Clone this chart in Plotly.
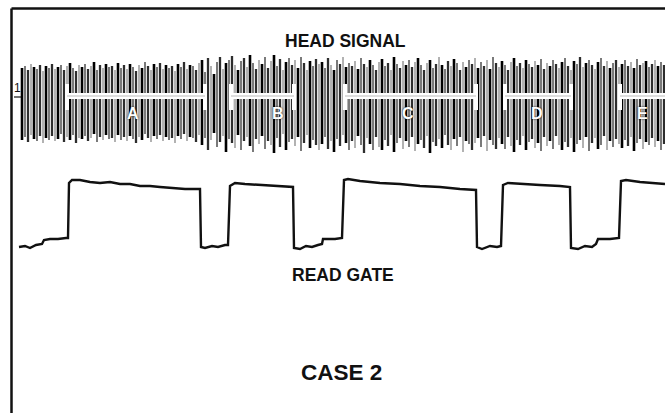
import plotly.graph_objects as go

# ---------------- data (screen-like units) ----------------
# head signal: spikes every 3 units starting at t=22; top / bottom excursion of each spike
head_t0 = 22
head_step = 3
head_top = [
    68,66,70,64,67,69,65,71,66,68,
    64,69,67,65,70,66,63,68,71,65,
    67,64,69,66,62,70,65,68,64,67,
    66,70,63,68,65,69,64,67,71,65,
    68,62,66,70,64,67,63,69,65,68,
    66,71,64,67,62,69,65,66,70,63,
    60,72,58,66,74,62,57,69,63,60,
    56,65,70,61,58,67,55,63,69,60,
    64,57,68,61,55,66,59,70,62,58,
    65,60,68,57,63,70,61,66,59,64,
    62,68,58,65,70,60,64,57,67,63,
    66,61,69,58,64,67,60,65,70,62,
    59,66,63,70,57,64,68,61,65,60,
    67,62,58,65,70,63,60,68,64,57,
    65,69,61,66,59,63,70,62,67,60,
    64,58,68,62,66,60,69,57,63,67,
    61,65,70,62,58,66,63,68,60,64,
    67,61,65,59,69,63,66,60,64,68,
    62,58,66,70,61,64,57,67,63,60,
    65,69,62,58,66,61,68,63,60,67,
    64,60,66,62,68,59,65,63,61,67,64,60,66,62,65,
]
head_bot = [
    140,137,142,135,139,141,136,143,138,140,
    136,141,139,134,142,137,140,135,143,138,
    139,136,141,138,134,142,137,140,135,139,
    138,142,135,140,137,141,136,139,143,137,
    140,134,138,142,136,139,135,141,137,140,
    138,143,136,139,134,141,137,138,142,135,
    145,138,150,140,133,147,142,136,152,139,
    143,148,135,150,141,137,146,152,139,144,
    136,149,141,145,153,138,147,134,150,142,
    139,146,137,151,143,135,148,140,145,150,
    144,137,149,141,152,139,146,135,143,150,
    141,148,136,145,153,138,144,150,137,147,
    150,140,146,135,152,143,138,149,141,147,
    137,151,144,140,148,136,153,142,146,139,
    148,135,145,150,139,146,137,152,141,144,
    150,143,138,147,136,151,140,145,149,138,
    144,149,137,146,152,140,145,136,150,142,
    139,148,143,151,137,146,141,149,136,145,
    150,142,147,138,152,144,140,148,137,151,
    143,138,149,145,136,150,141,147,139,144,
    148,140,146,137,151,143,139,149,142,145,138,147,141,150,144,
]

# read-gate trace breakpoints
gate_t = [19,25,30,36,42,44,50,58,66,68,69,72,80,90,100,110,120,130,140,150,160,170,185,199,200,
          201,205,212,218,225,228,230,235,245,260,275,292,293,
          294,300,306,312,318,322,323,335,342,344,348,360,380,400,420,440,460,475,476,
          477,482,490,497,501,503,508,520,540,560,569,570,
          571,578,585,592,596,598,610,619,621,626,640,665]
gate_v = [247,246,248,245,244,240,239,239,238,238,183,180,180,182,183,182,184,184,186,186,187,188,189,189,189,
          247,248,246,247,245,245,186,183,184,185,186,187,187,
          248,249,246,247,245,244,239,239,238,180,179,181,183,184,186,187,189,190,190,
          247,249,246,247,246,185,183,184,185,186,187,187,
          248,249,246,247,244,239,239,238,181,180,182,184]

# sector markers on the head signal
seg_labels = ["A", "B", "C", "D", "E"]
seg_start = [67, 231, 345, 505, 620]
seg_end = [205, 294, 476, 571, 667]
seg_label_t = [133, 278, 408, 537, 642]
seg_level = 96
seg_cap = (84, 110)
seg_label_level = 113

titles = ["HEAD SIGNAL", "READ GATE", "CASE 2"]
title_t = [345, 343, 341]
title_level = [41, 275, 372]
title_size = [17.5, 17.5, 22.5]

# ---------------- figure ----------------
fig = go.Figure()

shades = [("#000000", 2.6), ("#7a7a7a", 2.0), ("#2e2e2e", 2.3), ("#a5a5a5", 1.7)]
for g, (col, w) in enumerate(shades):
    xs, ys = [], []
    for i, (a, b) in enumerate(zip(head_top, head_bot)):
        if i % len(shades) != g:
            continue
        t = head_t0 + head_step * i
        xs += [t, t, None]
        ys += [a, b, None]
    fig.add_trace(go.Scatter(x=xs, y=ys, mode="lines",
                             line=dict(color=col, width=w),
                             hoverinfo="skip", showlegend=False))

# white marker bands with end caps
bx, by, cx, cy = [], [], [], []
for s, e in zip(seg_start, seg_end):
    bx += [s, e, None]
    by += [seg_level, seg_level, None]
    for t in (s, e):
        cx += [t, t, None]
        cy += [seg_cap[0], seg_cap[1], None]
fig.add_trace(go.Scatter(x=bx, y=by, mode="lines", line=dict(color="white", width=6),
                         hoverinfo="skip", showlegend=False))
fig.add_trace(go.Scatter(x=cx, y=cy, mode="lines", line=dict(color="white", width=4),
                         hoverinfo="skip", showlegend=False))
fig.add_trace(go.Scatter(x=bx, y=by, mode="lines", line=dict(color="#bbbbbb", width=1),
                         hoverinfo="skip", showlegend=False))

for lab, t in zip(seg_labels, seg_label_t):
    fig.add_annotation(x=t, y=seg_label_level, text=f"<b>{lab}</b>", showarrow=False,
                       font=dict(family="Liberation Sans, Arial", size=16, color="white",
                                 shadow="0px 0px 2px #000000"))

# read gate
fig.add_trace(go.Scatter(x=gate_t, y=gate_v, mode="lines",
                         line=dict(color="#111111", width=2.4),
                         hoverinfo="skip", showlegend=False))

for txt, t, lv, sz in zip(titles, title_t, title_level, title_size):
    fig.add_annotation(x=t, y=lv, text=f"<b>{txt}</b>", showarrow=False,
                       font=dict(family="Liberation Sans, Arial", size=sz, color="#111111"))

# channel "1" marker
fig.add_annotation(x=17, y=88, text="1", showarrow=False,
                   font=dict(family="Liberation Sans, Arial", size=12, color="#111111"))
fig.add_trace(go.Scatter(x=[14, 21], y=[97, 97], mode="lines",
                         line=dict(color="#111111", width=1.2),
                         hoverinfo="skip", showlegend=False))

# frame (top and left edges of the scope picture)
fig.add_shape(type="line", xref="paper", yref="paper", x0=11.5/665, x1=1, y0=1-8.5/413, y1=1-8.5/413,
              line=dict(color="#111111", width=2.5))
fig.add_shape(type="line", xref="paper", yref="paper", x0=11.5/665, x1=11.5/665, y0=0, y1=1-8.5/413,
              line=dict(color="#111111", width=2.5))

fig.update_layout(
    width=665, height=413,
    margin=dict(l=0, r=0, t=0, b=0),
    paper_bgcolor="white", plot_bgcolor="white",
    xaxis=dict(range=[0, 665], visible=False, fixedrange=True),
    yaxis=dict(range=[413, 0], visible=False, fixedrange=True),
    showlegend=False,
)

fig.write_html("out.html", config={"displayModeBar": False},
               post_script="document.body.style.margin='0px';document.body.style.overflow='hidden';")
